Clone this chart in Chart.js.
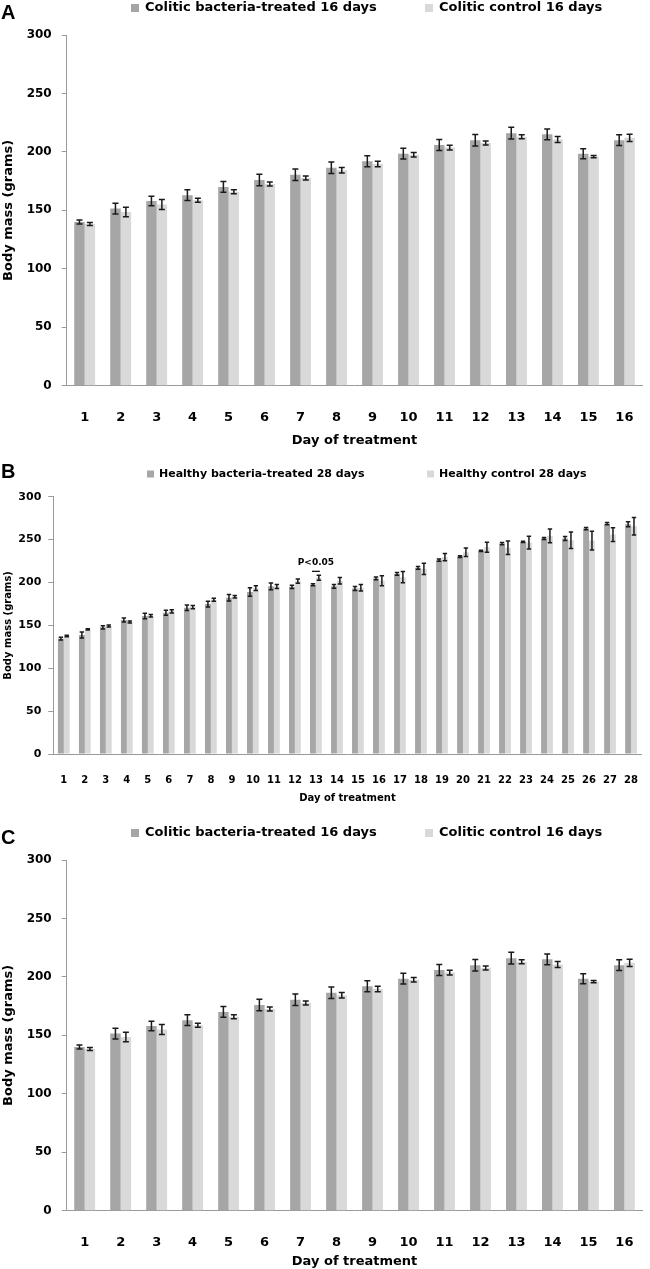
<!DOCTYPE html>
<html><head><meta charset="utf-8">
<script src="https://cdn.jsdelivr.net/npm/chart.js@4.4.0/dist/chart.umd.min.js"></script>
<style>
html,body{margin:0;padding:0;background:#fff;}
body{width:650px;height:1269px;position:relative;overflow:hidden;}
canvas{position:absolute;left:0;}
</style></head><body>
<canvas id="cA" width="650" height="450" style="top:0px"></canvas>
<canvas id="cB" width="650" height="360" style="top:450px"></canvas>
<canvas id="cC" width="650" height="444" style="top:825px"></canvas>
<script>
// ---------- DATA ----------
const days16 = ['1','2','3','4','5','6','7','8','9','10','11','12','13','14','15','16'];
const days28 = ['1','2','3','4','5','6','7','8','9','10','11','12','13','14','15','16','17','18','19','20','21','22','23','24','25','26','27','28'];
const yTicks = [0, 50, 100, 150, 200, 250, 300];

const coliticLabels = ['Colitic bacteria-treated 16 days', 'Colitic control 16 days'];
const coliticTreated    = [140, 151.5, 158, 163, 170, 176, 180.5, 186.5, 192, 198.5, 206, 210, 216, 215, 198.5, 210];
const coliticTreatedErr = [1.7, 4.6, 4.1, 4.6, 4.6, 4.9, 4.9, 4.9, 4.6, 4.6, 4.7, 4.9, 5, 4.6, 4.3, 4.6];
const coliticControl    = [138.3, 148.6, 155, 158.6, 166, 172.6, 177.7, 184.3, 189.7, 197.5, 203.7, 207.7, 212.9, 210.6, 196, 212];
const coliticControlErr = [1.3, 4, 4.3, 1.7, 1.7, 1.7, 1.7, 2.3, 2.3, 1.9, 2, 1.7, 1.7, 2.6, 0.9, 3];

const healthyLabels = ['Healthy bacteria-treated 28 days', 'Healthy control 28 days'];
const healthyTreated    = [134.5, 138.8, 147.7, 156.2, 160.9, 164.7, 170.5, 174.8, 182.2, 188.8, 195.5, 195, 197.3, 195.5, 193, 204.7, 210, 217, 226, 230.2, 236.8, 245.3, 247.3, 251.2, 251.2, 262.8, 268.6, 268];
const healthyTreatedErr = [1.5, 3.5, 1.9, 2.3, 3.1, 2.9, 3.3, 3.3, 3.9, 5, 4, 1.9, 1.2, 2.1, 2.3, 1.6, 1.5, 1.5, 1.4, 1, 0.8, 1.2, 0.8, 1.2, 2.3, 1.4, 1.2, 2.9];
const healthyControl    = [137.6, 145.3, 149.2, 153.9, 161.2, 166.3, 171.3, 179.8, 183.3, 193.4, 195.3, 201.6, 205.4, 202, 193.8, 202, 206.2, 215.9, 229.5, 235.3, 241, 240.5, 246.5, 254.3, 249.2, 248.8, 255.8, 265.5];
const healthyControlErr = [0.8, 0.8, 1.2, 1.2, 1.4, 1.9, 1.9, 1.7, 1.4, 2.7, 2.3, 2.5, 2.9, 3.9, 3.7, 5.8, 6.6, 6.6, 4.3, 5, 5.8, 7.9, 7.4, 7.9, 9.7, 11, 8.1, 10.3];

const sigDayIndex = 12;         // day 13
const sigText = 'P<0.05';

// ---------- STYLE ----------
const DARK = '#a6a6a6', LIGHT = '#d9d9d9', AXIS = '#9a9a9a';
const FONT = "'DejaVu Sans', sans-serif";

const errorBarPlugin = {
  id: 'errBars',
  afterDatasetsDraw(chart, args, o) {
    const ctx = chart.ctx, y = chart.scales.y;
    ctx.save();
    ctx.strokeStyle = o.color; ctx.lineWidth = o.width;
    chart.data.datasets.forEach((ds, i) => {
      const meta = chart.getDatasetMeta(i);
      const errs = o.errors[i];
      meta.data.forEach((bar, j) => {
        const v = ds.data[j], e = errs[j];
        const yt = y.getPixelForValue(v + e), yb = y.getPixelForValue(v - e);
        const x = bar.x;
        ctx.beginPath();
        ctx.moveTo(x, yt); ctx.lineTo(x, yb);
        ctx.moveTo(x - o.cap, yt); ctx.lineTo(x + o.cap, yt);
        ctx.moveTo(x - o.cap, yb); ctx.lineTo(x + o.cap, yb);
        ctx.stroke();
      });
    });
    ctx.restore();
  }
};

const decorPlugin = {
  id: 'decor',
  afterDraw(chart, args, o) {
    const ctx = chart.ctx;
    ctx.save();
    // panel letter
    ctx.fillStyle = '#000';
    ctx.font = "bold " + o.letterSize + "px 'Liberation Sans', Arial, sans-serif";
    ctx.textBaseline = 'top'; ctx.textAlign = 'left';
    ctx.fillText(o.letter, o.letterX, o.letterY);
    // legend
    ctx.font = "bold " + o.legendSize + "px " + FONT;
    ctx.textBaseline = 'middle';
    chart.data.datasets.forEach((ds, i) => {
      const bx = o.legendX[i];
      ctx.fillStyle = ds.backgroundColor;
      ctx.fillRect(bx, o.legendY - o.box / 2, o.box, o.box);
      ctx.fillStyle = '#000';
      ctx.fillText(ds.label, bx + o.box + o.boxGap, o.legendY);
    });
    // significance annotation
    if (o.sig) {
      const y = chart.scales.y;
      const m0 = chart.getDatasetMeta(0).data[o.sig.index];
      const m1 = chart.getDatasetMeta(1).data[o.sig.index];
      const cx = (m0.x + m1.x) / 2;
      const ly = y.getPixelForValue(o.sig.lineValue);
      ctx.strokeStyle = '#000'; ctx.lineWidth = 1.2;
      ctx.beginPath(); ctx.moveTo(m0.x - 1, ly); ctx.lineTo(m1.x + 1, ly); ctx.stroke();
      ctx.font = "bold " + o.sig.size + "px " + FONT;
      ctx.textAlign = 'center'; ctx.textBaseline = 'middle';
      ctx.fillText(o.sig.text, cx, y.getPixelForValue(o.sig.textValue));
    }
    ctx.restore();
  }
};

function makeChart(id, labels, names, s1, e1, s2, e2, L) {
  return new Chart(document.getElementById(id), {
    type: 'bar',
    data: {
      labels: labels,
      datasets: [
        { label: names[0], data: s1, backgroundColor: DARK, borderWidth: 0 },
        { label: names[1], data: s2, backgroundColor: LIGHT, borderWidth: 0 }
      ]
    },
    plugins: [errorBarPlugin, decorPlugin],
    options: {
      responsive: false,
      animation: false,
      events: [],
      datasets: { bar: { categoryPercentage: L.catPct, barPercentage: 1 } },
      layout: { padding: { top: L.top, left: 0, right: L.right, bottom: 0 } },
      plugins: {
        legend: { display: false },
        tooltip: { enabled: false },
        errBars: { errors: [e1, e2], cap: L.cap, width: 1.5, color: '#1a1a1a' },
        decor: L.decor
      },
      scales: {
        x: {
          offset: true,
          grid: { display: false },
          border: { display: true, color: AXIS, width: 1 },
          ticks: { color: '#000', font: { family: FONT, size: L.xTickSize, weight: 'bold' }, padding: L.xTickPad, maxRotation: 0, autoSkip: false },
          title: { display: true, text: 'Day of treatment', color: '#000', font: { family: FONT, size: L.titleSize, weight: 'bold' }, padding: { top: 0, bottom: L.xTitlePad } },
          afterFit: s => { s.height = L.xHeight; }
        },
        y: {
          min: 0, max: 300,
          afterBuildTicks: s => { s.ticks = yTicks.map(v => ({ value: v })); },
          grid: { display: true, drawOnChartArea: false, drawTicks: true, tickLength: 5, color: AXIS },
          border: { display: true, color: AXIS, width: 1 },
          ticks: { color: '#000', font: { family: FONT, size: L.yTickSize, weight: 'bold' }, padding: L.yTickPad },
          title: { display: true, text: 'Body mass (grams)', color: '#000', font: { family: FONT, size: L.titleSize, weight: 'bold' }, padding: { top: L.yTitlePad, bottom: 0 } },
          afterFit: s => { s.width = L.axisLeft; }
        }
      }
    }
  });
}

const layoutAC = (h) => ({
  catPct: 0.58, top: 35, right: 1.5, cap: 3,
  xTickSize: 13, yTickSize: 12, titleSize: 13, xTickPad: 16.5, yTickPad: 10, yTitlePad: 1,
  xHeight: h - 385.7, xTitlePad: h === 450 ? 1.2 : 0, axisLeft: 66.7,
  decor: { letter: '', letterSize: 20, letterX: 1, letterY: 3, legendSize: 13, legendX: [131, 425], legendY: 8, box: 8, boxGap: 6 }
});

const LA = layoutAC(450); LA.decor.letter = 'A';
makeChart('cA', days16, coliticLabels, coliticTreated, coliticTreatedErr, coliticControl, coliticControlErr, LA);

const LB = {
  catPct: 0.56, top: 46.7, right: 0, cap: 2.2,
  xTickSize: 10, yTickSize: 11, titleSize: 10, xTickPad: 12, yTickPad: 7, yTitlePad: 2,
  xHeight: 360 - 304, xTitlePad: 6, axisLeft: 53.3,
  decor: { letter: 'B', letterSize: 20, letterX: 1, letterY: 12, legendSize: 11, legendX: [147, 427], legendY: 24, box: 7, boxGap: 5,
           sig: { index: sigDayIndex, text: sigText, size: 9, lineValue: 213, textValue: 223 } }
};
makeChart('cB', days28, healthyLabels, healthyTreated, healthyTreatedErr, healthyControl, healthyControlErr, LB);

const LC = layoutAC(444); LC.decor.letter = 'C';
makeChart('cC', days16, coliticLabels, coliticTreated, coliticTreatedErr, coliticControl, coliticControlErr, LC);
</script>
</body></html>
